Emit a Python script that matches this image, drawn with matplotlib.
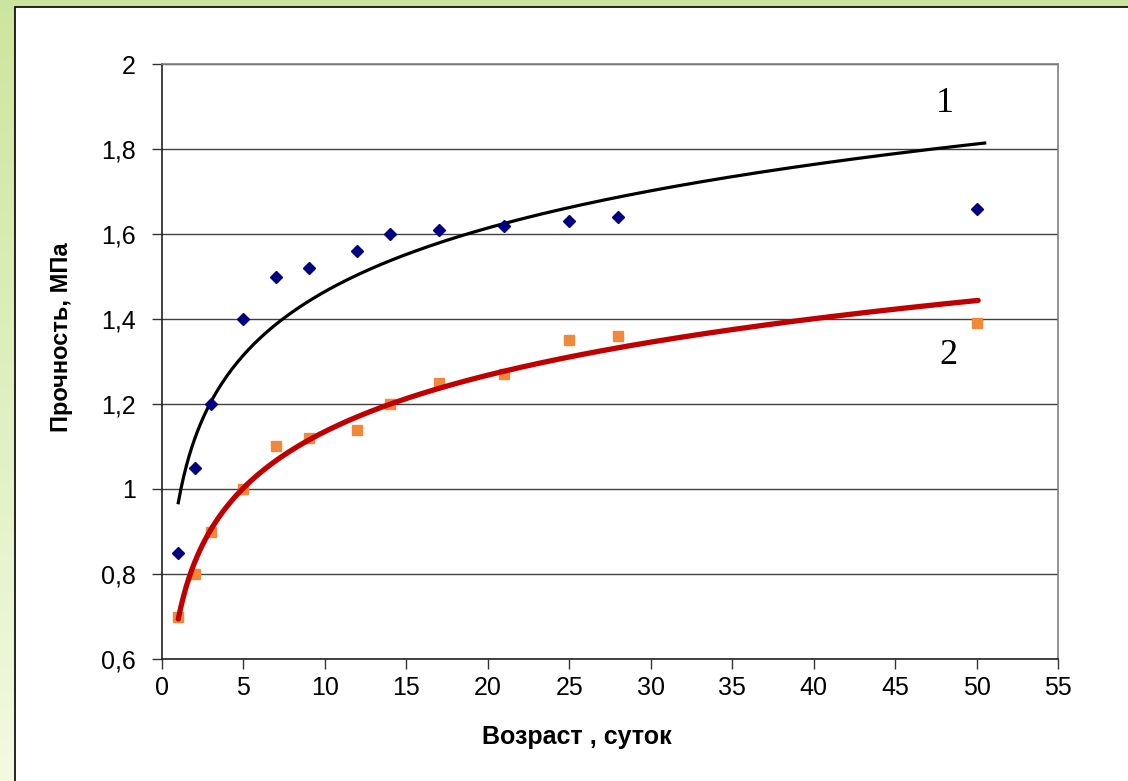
import numpy as np
import matplotlib.pyplot as plt
from matplotlib.patches import Rectangle
from matplotlib.ticker import FuncFormatter, MultipleLocator

# Возраст образцов, сут
age = [1, 2, 3, 5, 7, 9, 12, 14, 17, 21, 25, 28, 50]
# Прочность, МПа: серия 1 (ромбы) и серия 2 (квадраты)
strength_1 = [0.85, 1.05, 1.20, 1.40, 1.50, 1.52, 1.56, 1.60, 1.61, 1.62, 1.63, 1.64, 1.66]
strength_2 = [0.70, 0.80, 0.90, 1.00, 1.10, 1.12, 1.14, 1.20, 1.25, 1.27, 1.35, 1.36, 1.39]

W, H = 1128, 781
fig = plt.figure(figsize=(W / 100, H / 100), dpi=100)
plt.rcParams['font.family'] = ['Liberation Sans', 'DejaVu Sans']

# зелёная рамка слайда с градиентом и белая подложка
bg = fig.add_axes([0, 0, 1, 1], zorder=-10)
bg.set_axis_off()
grad = np.linspace(0, 1, 256).reshape(-1, 1)
top_c = np.array([0.80, 0.90, 0.62])
bot_c = np.array([0.95, 0.98, 0.88])
img = top_c + (bot_c - top_c) * grad[..., None]
bg.imshow(img, aspect='auto', extent=[0, 1, 0, 1], origin='upper')
bg.set_xlim(0, 1)
bg.set_ylim(0, 1)
bg.add_patch(Rectangle((15 / W, -0.01), 1.0, 1 - 7 / H + 0.01,
                       facecolor='white', edgecolor='black', linewidth=1.2))

ax = fig.add_axes([162 / W, 1 - 659 / H, 896 / W, 595 / H])

# логарифмические линии тренда
a1 = np.polyfit(np.log(age), strength_1, 1)
a2 = np.polyfit(np.log(age), strength_2, 1)
xt1 = np.linspace(1, 50.5, 300)
xt2 = np.linspace(1, 50.1, 300)
ax.plot(xt1, np.polyval(a1, np.log(xt1)), color='black', lw=2.3, zorder=3)
ax.plot(xt2, np.polyval(a2, np.log(xt2)), color='#C00000', lw=3.8,
        solid_capstyle='round', zorder=3)

ax.plot(age, strength_1, 'D', color='#000080', ms=5.8, zorder=4)
ax.plot(age, strength_2, 's', color='#F08A3A', ms=7.5, zorder=2)

ax.text(48.07, 1.906, '1', family='Liberation Serif', fontsize=26,
        ha='center', va='center')
ax.text(48.25, 1.315, '2', family='Liberation Serif', fontsize=26,
        ha='center', va='center')

ax.set_xlim(0, 55)
ax.set_ylim(0.6, 2.0)
ax.xaxis.set_major_locator(MultipleLocator(5))
ax.yaxis.set_major_locator(MultipleLocator(0.2))
fmt = FuncFormatter(lambda v, p: ('%g' % round(v, 2)).replace('.', ','))
ax.xaxis.set_major_formatter(fmt)
ax.yaxis.set_major_formatter(fmt)
ax.tick_params(axis='both', direction='out', length=7, width=1,
               colors='#333333', labelcolor='black', labelsize=18)
ax.tick_params(axis='x', pad=5)
ax.tick_params(axis='y', pad=12)
ax.grid(axis='y', color='#404040', linewidth=1)
ax.set_axisbelow(True)

for side in ['left', 'bottom']:
    ax.spines[side].set_color('#222222')
    ax.spines[side].set_linewidth(1.2)
for side in ['top', 'right']:
    ax.spines[side].set_color('#808080')
    ax.spines[side].set_linewidth(1.2)

ax.set_xlabel('Возраст , суток', fontsize=18, fontweight='bold', va='center')
ax.xaxis.set_label_coords((577 - 162) / 896, (659 - 737) / 595)
ax.set_ylabel('Прочность, МПа', fontsize=17, fontweight='bold', va='center')
ax.yaxis.set_label_coords((61 - 162) / 896, (659 - 337) / 595)

fig.savefig('out.png', dpi=100)
